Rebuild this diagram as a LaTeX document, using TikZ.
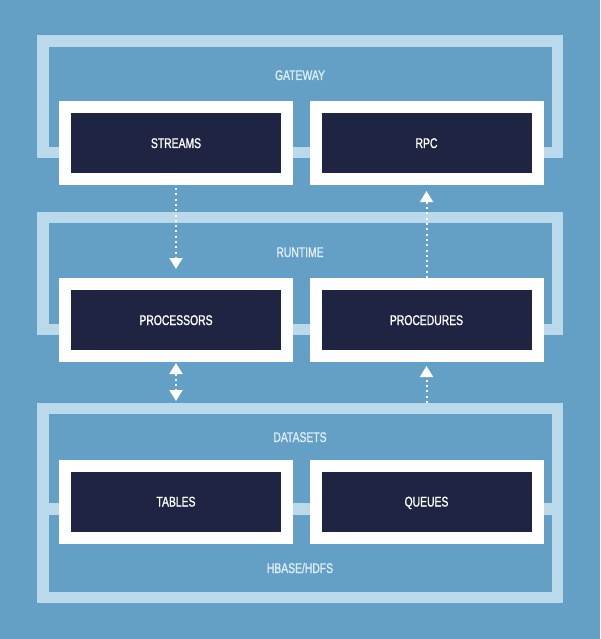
\documentclass[tikz,border=0pt]{standalone}
\usepackage{fontspec}
\setmainfont{Liberation Sans}[FakeStretch=0.74, FakeBold=1.2]
\usetikzlibrary{arrows.meta}

\definecolor{bgblue}{HTML}{649FC6}
\definecolor{tierblue}{HTML}{BAD9EB}
\definecolor{boxnavy}{HTML}{1E2442}
\definecolor{nameblue}{HTML}{DDEEF8}

\begin{document}
\begin{tikzpicture}[
  x=1pt, y=-1pt,
  every node/.style = {font=\fontsize{14}{16}\selectfont, text height=10pt, text depth=0pt},
  box/.style = {draw=white, fill=boxnavy, line width=12pt, outer sep=6pt, inner sep=0pt,
                minimum width=222pt, minimum height=72pt, text=white},
  tier/.style = {draw=tierblue, line width=11.5pt},
  tiername/.style = {text=nameblue},
  flow/.style = {white, line width=2pt, dash pattern=on 2pt off 3.3pt,
                 -{Triangle[length=11pt,width=13pt]}}
]
  \fill[bgblue] (0,0) rectangle (600,639);

  % layers
  \draw[tier] (43,41) rectangle (557.5,152.5);
  \draw[tier] (43,217.5) rectangle (557.5,329.5);
  \draw[tier] (43,408.5) rectangle (557.5,509);
  \draw[tier] (43,509) rectangle (557.5,597.5);

  \node[tiername] (gateway) at (300,75) {GATEWAY};
  \node[tiername] (runtime) at (300,252) {RUNTIME};
  \node[tiername] (datasets) at (300,437) {DATASETS};
  \node[tiername] (hbase) at (300,568) {HBASE/HDFS};

  \node[box] (streams) at (176,143) {STREAMS};
  \node[box] (rpc) at (426.5,143) {RPC};
  \node[box] (processors) at (176,320) {PROCESSORS};
  \node[box] (procedures) at (426.5,320) {PROCEDURES};
  \node[box] (tables) at (176,501.5) {TABLES};
  \node[box] (queues) at (426.5,501.5) {QUEUES};

  \coordinate (dsleft) at (176,403);
  \coordinate (dsright) at (426.5,403);

  \draw[flow, shorten <=3pt, shorten >=9pt] (streams) -- (processors);
  \draw[flow, shorten >=6pt] (procedures) -- (rpc);
  \draw[flow, shorten >=4pt] (dsright) -- (procedures);
  \draw[flow, {Triangle[length=11pt,width=13pt]}-{Triangle[length=11pt,width=13pt]},
        shorten <=1pt, shorten >=2pt] (processors) -- (dsleft);
\end{tikzpicture}
\end{document}
